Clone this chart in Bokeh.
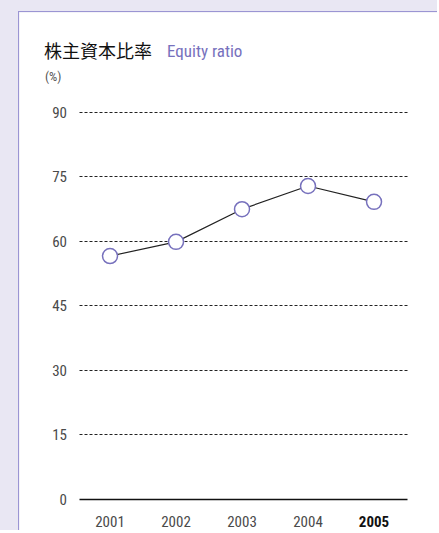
from bokeh.plotting import figure
from bokeh.models import Range1d, FixedTicker, Label, ColumnDataSource, LinearAxis, Grid
from bokeh.layouts import column
from bokeh.embed import file_html
from bokeh.resources import INLINE

years = [2001, 2002, 2003, 2004, 2005]
equity_ratio = [56.5, 59.8, 67.4, 72.8, 69.1]
y_ticks = [0, 15, 30, 45, 60, 75, 90]
title_jp = "株主資本比率"
title_en = "Equity ratio"
unit_label = "(%)"

PURPLE = "#7771bd"
LAVENDER = "#e9e7f3"
BORDER = "#9b95d3"
NARROW = "Roboto Condensed"
TICK_COLOR = "#4a4a4a"

# ---- geometry (page pixels) ----
W, H = 419, 519            # figure size
OX, OY = 19.5, 12.5        # page position of the canvas origin
X_START, X_END = 2000.53, 2005.5
PX0, PXY = 79.0, 66.0      # page x of X_START, px per year
PY0, PYU = 499.0, 4.3      # page y of value 0, px per unit


def dx(page_x):
    return X_START + (page_x - PX0) / PXY


def dy(page_y):
    return (PY0 - page_y) / PYU


p = figure(width=W, height=H, output_backend="svg", toolbar_location=None,
           x_range=Range1d(dx(OX), dx(OX + W)), y_range=Range1d(dy(OY + H), dy(OY)),
           x_axis_location=None, y_axis_location=None,
           min_border=0, min_border_left=0, min_border_right=0,
           min_border_top=0, min_border_bottom=0)
p.border_fill_color = "white"
p.background_fill_color = "white"
p.outline_line_color = None
p.grid.visible = False

# y axis (inside the canvas, at the left edge of the chart area)
ya = LinearAxis(fixed_location=X_START, ticker=FixedTicker(ticks=y_ticks))
ya.axis_line_color = None
ya.major_tick_line_color = None
ya.minor_tick_line_color = None
ya.major_label_standoff = 6
ya.major_label_text_font = NARROW
ya.major_label_text_font_size = "15px"
ya.major_label_text_color = TICK_COLOR
p.add_layout(ya, "left")

# x axis for 2001-2004 with the baseline
xa = LinearAxis(fixed_location=0, ticker=FixedTicker(ticks=years[:-1]),
                bounds=(X_START, X_END))
xa.formatter.use_scientific = False
xa.axis_line_color = "#111111"
xa.axis_line_width = 1.6
xa.major_tick_line_color = None
xa.minor_tick_line_color = None
xa.major_label_standoff = 11
xa.major_label_text_font = NARROW
xa.major_label_text_font_size = "15px"
xa.major_label_text_color = TICK_COLOR
p.add_layout(xa, "below")

# bold label for the latest year
xb = LinearAxis(fixed_location=0, ticker=FixedTicker(ticks=years[-1:]))
xb.formatter.use_scientific = False
xb.axis_line_color = None
xb.major_tick_line_color = None
xb.minor_tick_line_color = None
xb.major_label_standoff = 11
xb.major_label_text_font = NARROW
xb.major_label_text_font_size = "15px"
xb.major_label_text_font_style = "bold"
xb.major_label_text_color = "#111111"
p.add_layout(xb, "below")

grid_kw = dict(dimension=1, ticker=FixedTicker(ticks=y_ticks[1:]),
               grid_line_color="#222222", grid_line_dash="3 2", grid_line_width=1)
g = Grid(**grid_kw)
if "cross_bounds" in g.properties():
    g.cross_bounds = (X_START, X_END)
    p.add_layout(g, "center")
else:
    src_g = ColumnDataSource(dict(y=y_ticks[1:], x0=[X_START] * 6, x1=[X_END] * 6))
    p.segment("x0", "y", "x1", "y", source=src_g, line_color="#222222",
              line_dash="3 2", line_width=1)

src = ColumnDataSource(dict(x=years, y=equity_ratio))
p.line("x", "y", source=src, line_color="#222222", line_width=1.2)
p.scatter("x", "y", source=src, size=15, fill_color="white",
          line_color=PURPLE, line_width=1.5)

# heading texts
p.add_layout(Label(x=dx(44), y=dy(50), text=title_jp, text_align="left",
                   text_baseline="middle", text_font="Noto Sans CJK JP",
                   text_font_size="18px", text_color="#111111"))
p.add_layout(Label(x=dx(167), y=dy(50.5), text=title_en, text_align="left",
                   text_baseline="middle", text_font=NARROW,
                   text_font_size="17px", text_color=PURPLE))
p.add_layout(Label(x=dx(45), y=dy(76), text=unit_label, text_align="left",
                   text_baseline="middle", text_font=NARROW,
                   text_font_size="13px", text_color="#555555"))

p.styles = {"border-left": f"1.5px solid {BORDER}", "border-top": f"1.5px solid {BORDER}"}
layout = column(p, styles={"background-color": LAVENDER, "padding-left": "18px",
                           "padding-top": "11px"})

open("out.html", "w").write(file_html(layout, INLINE))
